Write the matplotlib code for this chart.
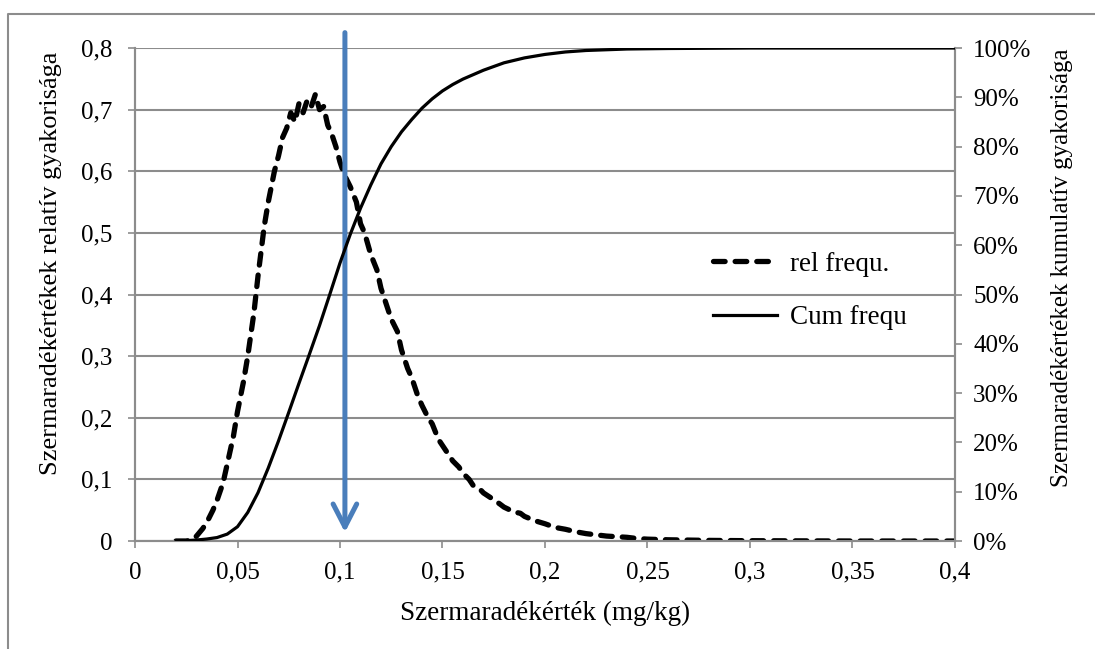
import matplotlib
matplotlib.use('Agg')
import matplotlib.pyplot as plt
from matplotlib.ticker import FuncFormatter, MultipleLocator
from matplotlib.lines import Line2D

# Data
rel_x = [0.020, 0.025, 0.028, 0.030, 0.033, 0.035, 0.038, 0.040, 0.043, 0.045,
         0.048, 0.050, 0.053, 0.055, 0.058, 0.060, 0.063, 0.065, 0.068, 0.070,
         0.072, 0.074, 0.076, 0.078, 0.080, 0.082, 0.084, 0.086, 0.088, 0.090,
         0.092, 0.094, 0.096, 0.098, 0.100, 0.102, 0.105, 0.108, 0.110, 0.112,
         0.115, 0.118, 0.120, 0.122, 0.125, 0.128, 0.130, 0.133, 0.135, 0.138,
         0.140, 0.143, 0.145, 0.148, 0.150, 0.153, 0.155, 0.158, 0.160, 0.163,
         0.165, 0.168, 0.170, 0.175, 0.178, 0.180, 0.185, 0.188, 0.190, 0.195,
         0.200, 0.205, 0.210, 0.215, 0.220, 0.225, 0.230, 0.235, 0.240, 0.245,
         0.250, 0.260, 0.270, 0.280, 0.300, 0.350, 0.400]
rel_y = [0.0, 0.0, 0.002, 0.008, 0.02, 0.03, 0.05, 0.066, 0.095, 0.125,
         0.17, 0.21, 0.26, 0.30, 0.37, 0.43, 0.51, 0.55, 0.60, 0.625,
         0.655, 0.67, 0.695, 0.68, 0.71, 0.695, 0.715, 0.705, 0.725, 0.70,
         0.705, 0.675, 0.66, 0.64, 0.615, 0.595, 0.575, 0.55, 0.515, 0.50,
         0.465, 0.44, 0.41, 0.39, 0.36, 0.34, 0.31, 0.28, 0.265, 0.235,
         0.22, 0.20, 0.19, 0.165, 0.155, 0.14, 0.13, 0.12, 0.11, 0.10,
         0.09, 0.085, 0.078, 0.067, 0.06, 0.055, 0.047, 0.045, 0.04, 0.033,
         0.028, 0.022, 0.019, 0.015, 0.012, 0.010, 0.008, 0.007, 0.006, 0.004,
         0.003, 0.002, 0.0015, 0.001, 0.0005, 0.0, 0.0]

cum_x = [0.020, 0.025, 0.030, 0.035, 0.040, 0.045, 0.050, 0.055, 0.060, 0.065,
         0.070, 0.075, 0.080, 0.085, 0.090, 0.095, 0.100, 0.105, 0.110, 0.115,
         0.120, 0.125, 0.130, 0.135, 0.140, 0.145, 0.150, 0.155, 0.160, 0.170,
         0.180, 0.190, 0.200, 0.210, 0.220, 0.240, 0.260, 0.300, 0.400]
cum_y = [0.0, 0.0008, 0.002, 0.004, 0.007, 0.014, 0.029, 0.058, 0.098, 0.148,
         0.203, 0.261, 0.32, 0.378, 0.437, 0.50, 0.564, 0.622, 0.675, 0.722,
         0.765, 0.80, 0.83, 0.855, 0.878, 0.897, 0.913, 0.926, 0.937, 0.955,
         0.97, 0.98, 0.987, 0.992, 0.995, 0.998, 0.999, 1.0, 1.0]

arrow_x = 0.1024

plt.rcParams['font.family'] = ['Liberation Serif', 'DejaVu Serif']
grid_col = '#8c8c8c'
tick_fs = 18
label_fs = 19.5

fig = plt.figure(figsize=(10.95, 6.49), dpi=100)
ax = fig.add_axes([0.1233, 0.1664, 0.7488, 0.7596])
ax2 = ax.twinx()

# rel freq (dashed)
ax.plot(rel_x, rel_y, color='black', lw=3.8, dashes=(2.2, 1.9),
        dash_capstyle='round', solid_capstyle='round', zorder=3)
ax.set_xlim(0, 0.4)
ax.set_ylim(0, 0.8)
ax.xaxis.set_major_locator(MultipleLocator(0.05))
ax.yaxis.set_major_locator(MultipleLocator(0.1))
ax.yaxis.grid(True, color=grid_col, lw=1.5)
ax.set_axisbelow(True)

# cum freq (solid) on right axis
ax2.plot(cum_x, cum_y, color='black', lw=2.3, zorder=3)
ax2.set_ylim(0, 1.0)
ax2.yaxis.set_major_locator(MultipleLocator(0.1))

comma = FuncFormatter(lambda v, p: ('%g' % round(v, 3)).replace('.', ','))
ax.xaxis.set_major_formatter(comma)
ax.yaxis.set_major_formatter(comma)
ax2.yaxis.set_major_formatter(FuncFormatter(lambda v, p: '%d%%' % round(v * 100)))

for a in (ax, ax2):
    a.tick_params(labelsize=tick_fs, color=grid_col, width=1.2, length=5, direction='out')
    for s in a.spines.values():
        s.set_color(grid_col)
        s.set_linewidth(1.5)
    a.spines['top'].set_visible(False)
ax.tick_params(axis='x', pad=10)
ax.tick_params(axis='y', pad=11)
ax2.tick_params(axis='y', pad=8)

ax.set_xlabel('Szermaradékérték (mg/kg)', fontsize=label_fs, labelpad=12)
ax.set_ylabel('Szermaradékértékek relatív gyakorisága', fontsize=19, labelpad=14)
ax2.set_ylabel('Szermaradékértékek kumulatív gyakorisága', fontsize=18, labelpad=14)
ax.yaxis.label.set_y(0.564)
ax2.yaxis.label.set_y(0.554)

# blue arrow
ax.annotate('', xy=(arrow_x, 0.014), xytext=(arrow_x, 0.825),
            arrowprops=dict(arrowstyle='->,head_length=1.65,head_width=0.85',
                            lw=3.6, color='#4a7ebb', mutation_scale=10,
                            shrinkA=0, shrinkB=0),
            annotation_clip=False, zorder=5)

handles = [Line2D([], [], color='black', lw=3.8, dashes=(2.2, 1.9), dash_capstyle='round'),
           Line2D([], [], color='black', lw=2.3)]
ax2.legend(handles, ['rel frequ.', 'Cum frequ'], loc='center left',
           bbox_to_anchor=(0.705, 0.507), frameon=False, fontsize=label_fs,
           labelspacing=1.05, handlelength=2.37, handletextpad=0.48,
           borderpad=0, borderaxespad=0)

# outer frame
fig.add_artist(Line2D([8 / 1095, 8 / 1095, 1.0], [0.0, 1 - 14 / 649, 1 - 14 / 649],
                      transform=fig.transFigure, color=grid_col, lw=1.5))

plt.savefig('out.png', dpi=100, facecolor='white')
plt.close()
